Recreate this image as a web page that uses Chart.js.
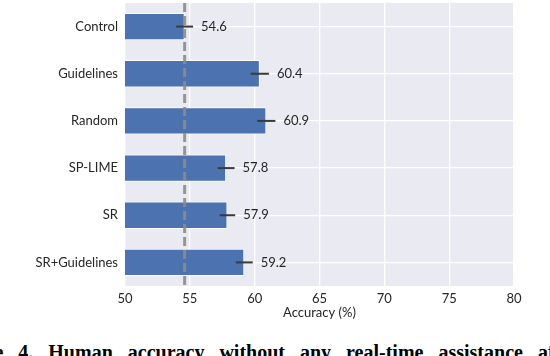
<!DOCTYPE html>
<html>
<head>
<meta charset="utf-8">
<script src="https://cdn.jsdelivr.net/npm/chart.js@4"></script>
<style>
  html, body { margin: 0; padding: 0; background: #fff; }
  #wrap { position: relative; width: 550px; height: 356px; overflow: hidden; }
  #box { position: absolute; left: 0; top: 0; width: 550px; height: 325px; }
  #caption {
    position: absolute; left: -53px; top: 341px;
    font-family: "Liberation Serif", serif; font-weight: bold; font-size: 20px;
    white-space: nowrap; word-spacing: 10px; color: #000; line-height: 22px;
  }
</style>
</head>
<body>
<div id="wrap">
  <div id="box"><canvas id="accChart"></canvas></div>
  <div id="caption">Figure 4. Human accuracy without any real-time assistance after</div>
</div>
<script>
const categories = ["Control", "Guidelines", "Random", "SP-LIME", "SR", "SR+Guidelines"];
const accuracy = [54.6, 60.4, 60.9, 57.8, 57.9, 59.2];
const errors = [0.65, 0.7, 0.7, 0.65, 0.6, 0.65];
const xTicks = [50, 55, 60, 65, 70, 75, 80];
const controlLine = 54.6;

const FONT = "Lato, 'DejaVu Sans', sans-serif";

// background of plot area (seaborn darkgrid)
const bgPlugin = {
    id: "bg",
    beforeDraw(chart) {
        let { ctx, chartArea: a } = chart;
        ctx.save();
        ctx.fillStyle = "#EAEAF2";
        ctx.fillRect(a.left, a.top, a.right - a.left, a.bottom - a.top);
        ctx.restore();
    }
};

// error bars, dashed reference line and value labels
const extrasPlugin = {
    id: "extras",
    afterDatasetsDraw(chart) {
        let { ctx, chartArea: a, scales: { x, y } } = chart;
        ctx.save();
        // dashed control line
        let cx = x.getPixelForValue(controlLine);
        ctx.strokeStyle = "rgba(140,140,140,0.9)";
        ctx.lineWidth = 3;
        ctx.setLineDash([9, 4]);
        ctx.beginPath();
        ctx.moveTo(cx, a.top);
        ctx.lineTo(cx, a.bottom);
        ctx.stroke();
        ctx.setLineDash([]);

        ctx.font = "13px " + FONT;
        ctx.textBaseline = "middle";
        ctx.textAlign = "left";
        accuracy.forEach((v, i) => {
            let yc = y.getPixelForValue(i);
            let x0 = x.getPixelForValue(v - errors[i]);
            let x1 = x.getPixelForValue(v + errors[i]);
            ctx.strokeStyle = "#3a3a3a";
            ctx.lineWidth = 2;
            ctx.beginPath();
            ctx.moveTo(x0, yc);
            ctx.lineTo(x1, yc);
            ctx.stroke();
            ctx.fillStyle = "#262626";
            ctx.fillText(v.toFixed(1), x1 + 8, yc);
        });
        ctx.restore();
    }
};

new Chart(document.getElementById("accChart").getContext("2d"), {
    type: "bar",
    data: {
        labels: categories,
        datasets: [{
            data: accuracy,
            backgroundColor: "#4C72B0",
            borderColor: "#ffffff",
            borderWidth: 1,
            borderSkipped: "start",
            barPercentage: 0.58,
            categoryPercentage: 1.0
        }]
    },
    options: {
        indexAxis: "y",
        responsive: true,
        maintainAspectRatio: false,
        animation: false,
        layout: { padding: { top: 3, right: 36, left: 0, bottom: 0 } },
        plugins: {
            legend: { display: false },
            tooltip: { enabled: false }
        },
        scales: {
            x: {
                min: 50,
                max: 80,
                afterBuildTicks: s => { s.ticks = xTicks.map(v => ({ value: v })); },
                afterFit: s => { s.height = 39; s.paddingLeft = 0; s.paddingRight = 0; },
                grid: { color: "#ffffff", lineWidth: 1.3, drawTicks: false },
                border: { display: false },
                ticks: { color: "#262626", padding: 5, font: { family: FONT, size: 13 } },
                title: {
                    display: true,
                    text: "Accuracy (%)",
                    color: "#262626",
                    font: { family: FONT, size: 13 },
                    padding: { top: 0, bottom: 4 }
                }
            },
            y: {
                afterFit: s => { s.width = 125; s.paddingTop = 0; s.paddingBottom = 0; },
                grid: { color: "#ffffff", lineWidth: 1.3, drawTicks: false, offset: false },
                border: { display: false },
                ticks: { color: "#262626", padding: 7, font: { family: FONT, size: 13 } }
            }
        }
    },
    plugins: [bgPlugin, extrasPlugin]
});
</script>
</body>
</html>
